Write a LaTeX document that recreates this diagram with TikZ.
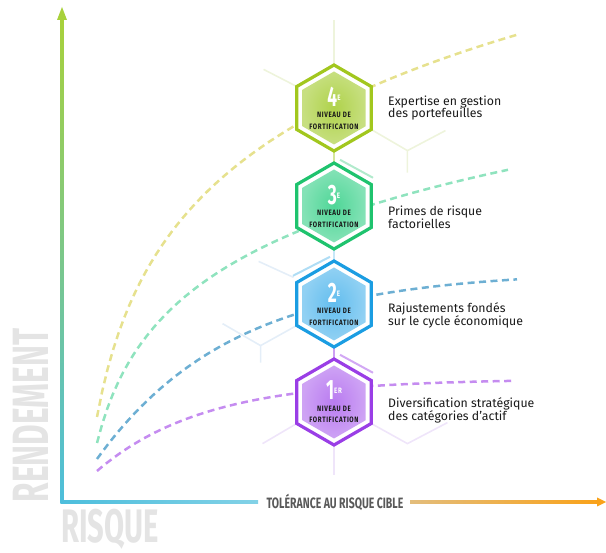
\documentclass[tikz,border=0pt]{standalone}
\usepackage{fontspec}
\setmainfont{Fira Sans}
\newfontfamily\condfont[FakeStretch=0.62]{Fira Sans}
\newfontfamily\axisfont[FakeStretch=0.7]{Fira Sans}
\newfontfamily\tagfont[FakeStretch=0.8,LetterSpace=8]{Fira Sans}
\usetikzlibrary{shapes.geometric}

% level colours
\definecolor{lineA}{HTML}{A2C71E}\definecolor{fillA}{HTML}{AFD24A}
\definecolor{lineB}{HTML}{1FC36E}\definecolor{fillB}{HTML}{4FD697}
\definecolor{lineC}{HTML}{1B9DE2}\definecolor{fillC}{HTML}{62BDEE}
\definecolor{lineD}{HTML}{9A3EE6}\definecolor{fillD}{HTML}{B97BF0}
% curves
\definecolor{curveA}{HTML}{E6E18E}\definecolor{curveB}{HTML}{8FE3BE}
\definecolor{curveC}{HTML}{6DAFD3}\definecolor{curveD}{HTML}{C58CF0}
% faint grid
\definecolor{gridA}{HTML}{EEF4DC}\definecolor{gridB}{HTML}{E3F5EC}
\definecolor{gridC}{HTML}{E4EEF8}\definecolor{gridD}{HTML}{EFE5FA}
% axes
\definecolor{axisgreen}{HTML}{A8D13B}\definecolor{axiscyan}{HTML}{4DBEDC}
\definecolor{axistan}{HTML}{E3BD7C}\definecolor{axisorange}{HTML}{F9A21A}
\definecolor{bigtext}{HTML}{E4E4E4}

\begin{document}
\begin{tikzpicture}[x=1pt,y=-1pt,
    hexa/.style={regular polygon, regular polygon sides=6,
        shape border rotate=30, inner sep=0pt},
    hexout/.style={hexa, minimum size=86pt, draw=#1, line width=3.2pt, fill=white},
    hexin/.style={hexa, minimum size=73pt, inner color=#1, outer color=#1!70!white},
    rung/.style={align=center, inner sep=0pt, text=black!90,
        font=\tagfont\bfseries\fontsize{7.8}{11.5}\selectfont},
    desc/.style={anchor=west, align=left, inner sep=0pt, text=black!90,
        font=\fontsize{12.3}{12.8}\selectfont},
    curve/.style={line width=2.5pt, dash pattern=on 7pt off 4.5pt, #1},
    faint/.style={line width=1.6pt, #1},
    joint/.style={line width=2pt, #1}]
\useasboundingbox (0,0) rectangle (606,553);

% Faint honeycomb behind the levels
\node [hexa, minimum size=86pt] (h4) at (334,108) {};
\node [hexa, minimum size=86pt] (h3) at (334,206) {};
\node [hexa, minimum size=86pt] (h2) at (334,304) {};
\node [hexa, minimum size=86pt] (h1) at (334,402) {};
\draw [faint=gridA] (h4.90) -- ++(0,-45);
\draw [faint=gridA] (h4.150) -- ++(-33,-17);
\draw [faint=gridA] (h4.330) -- ++(36,21) coordinate (g4) -- ++(0,22);
\draw [faint=gridA] (g4) -- ++(38,-20);
\draw [faint=gridC] (h2.150) ++(-38,-21) -- ++(35,16);
\draw [faint=gridC] (h2.210) -- ++(-36,20) coordinate (g2) -- ++(0,17);
\draw [faint=gridC] (g2) -- ++(-38,-22);
\draw [faint=gridD] (h1.210) -- ++(-34,20);
\draw [faint=gridD] (h1.270) -- ++(0,30);
\draw [faint=gridD] (h1.330) -- ++(36,20) coordinate (g1) -- ++(40,-21);

% Return curves
\draw [curve=curveA] plot [domain=97:520, samples=80]
    (\x, {417-131*ln(1+(\x-97)/24)});
\draw [curve=curveB] plot [domain=97:508, samples=80]
    (\x, {443-93*ln(1+(\x-97)/23)});
\draw [curve=curveC] plot [domain=97:517, samples=80]
    (\x, {459-188*(1-exp(-(\x-97)/135))});
\draw [curve=curveD] plot [domain=97:515, samples=80]
    (\x, {471-92*(1-exp(-(\x-97)/107))});

% Joints between the levels
\draw [joint=lineA!45!white] (h4.270) -- (h3.90);
\draw [joint=lineB!35!white] (h3.90) ++(6,-3) -- ++(33,18);
\draw [joint=lineC!25!white] (h3.270) -- (h2.90);
\draw [joint=lineC!35!white] (h2.90) ++(-4,-4) -- ++(-37,19);
\draw [joint=lineD!50!white] (h2.270) -- (h1.90);
\draw [joint=lineD!45!white] (h1.90) ++(6,-4) -- ++(33,18);

% Level 4
\node [hexout=lineA] at (h4) {};
\node [hexin=fillA] at (h4) {};
\node [rung] (t4) at (h4) {{\condfont\bfseries\fontsize{28}{28}\selectfont\color{white}4}%
    \raisebox{6pt}{\color{white}E}\\NIVEAU DE\\FORTIFICATION};
\node [desc] (d4) at (388,108) {Expertise en gestion\\des portefeuilles};

% Level 3
\node [hexout=lineB] at (h3) {};
\node [hexin=fillB] at (h3) {};
\node [rung] (t3) at (h3) {{\condfont\bfseries\fontsize{28}{28}\selectfont\color{white}3}%
    \raisebox{6pt}{\color{white}E}\\NIVEAU DE\\FORTIFICATION};
\node [desc] (d3) at (388,217) {Primes de risque\\factorielles};

% Level 2
\node [hexout=lineC] at (h2) {};
\node [hexin=fillC] at (h2) {};
\node [rung] (t2) at (h2) {{\condfont\bfseries\fontsize{28}{28}\selectfont\color{white}2}%
    \raisebox{6pt}{\color{white}E}\\NIVEAU DE\\FORTIFICATION};
\node [desc] (d2) at (388,315) {Rajustements fondés\\sur le cycle économique};

% Level 1
\node [hexout=lineD] at (h1) {};
\node [hexin=fillD] at (h1) {};
\node [rung] (t1) at (h1) {{\condfont\bfseries\fontsize{28}{28}\selectfont\color{white}1}%
    \raisebox{6pt}{\color{white}ER}\\NIVEAU DE\\FORTIFICATION};
\node [desc] (d1) at (388,410) {Diversification stratégique\\des catégories d'actif};

% Axes
\coordinate (O) at (62,502);
\coordinate (ytip) at (62,7);
\coordinate (xtip) at (606,502);
\shade [top color=axisgreen, bottom color=axiscyan] (60.5,18) rectangle (63.5,503.5);
\fill [axisgreen] (ytip) -- ++(-5,13) -- ++(10,0) -- cycle;
\shade [left color=axiscyan, right color=axiscyan!70!white] (60.5,500.5) rectangle (258,503.5);
\node [inner sep=0pt, text=black!65,
    font=\axisfont\bfseries\fontsize{15}{15}\selectfont] (xlab) at (335,502)
    {TOLÉRANCE AU RISQUE CIBLE};
\shade [left color=axistan, right color=axisorange] (410,500.5) rectangle (598,503.5);
\fill [axisorange] (xtip) -- ++(-9,-4.5) -- ++(0,9) -- cycle;

% Axis titles
\node [rotate=90, inner sep=0pt, text=bigtext,
    font=\condfont\bfseries\fontsize{51}{51}\selectfont] (ytitle) at (30.5,415.5) {RENDEMENT};
\node [anchor=base west, inner sep=0pt, text=bigtext,
    font=\condfont\bfseries\fontsize{47}{47}\selectfont] (xtitle) at (61,543) {RISQUE};

\end{tikzpicture}
\end{document}
